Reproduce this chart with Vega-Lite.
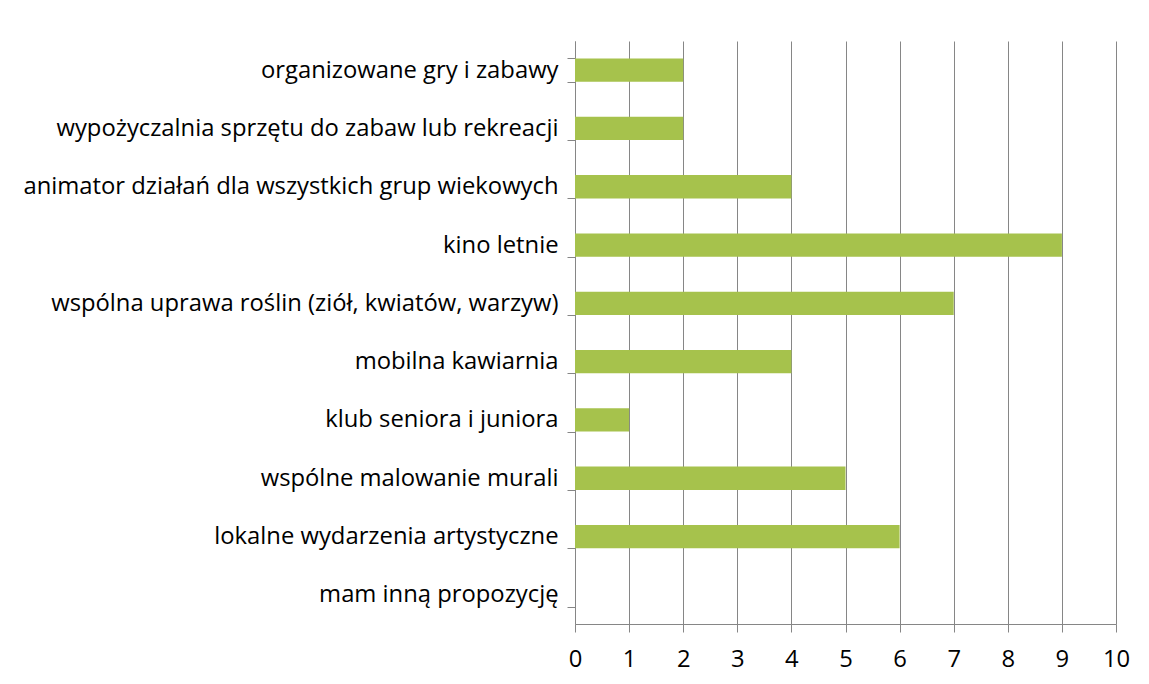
{
  "$schema": "https://vega.github.io/schema/vega-lite/v6.json",
  "autosize": {"type": "none"},
  "padding": {"left": 575, "top": 41, "right": 33, "bottom": 60},
  "width": 541,
  "height": 583,
  "background": "white",
  "data": {"values": [
    {"kategoria": "organizowane gry i zabawy", "liczba": 2},
    {"kategoria": "wypożyczalnia sprzętu do zabaw lub rekreacji", "liczba": 2},
    {"kategoria": "animator działań dla wszystkich grup wiekowych", "liczba": 4},
    {"kategoria": "kino letnie", "liczba": 9},
    {"kategoria": "wspólna uprawa roślin (ziół, kwiatów, warzyw)", "liczba": 7},
    {"kategoria": "mobilna kawiarnia", "liczba": 4},
    {"kategoria": "klub seniora i juniora", "liczba": 1},
    {"kategoria": "wspólne malowanie murali", "liczba": 5},
    {"kategoria": "lokalne wydarzenia artystyczne", "liczba": 6},
    {"kategoria": "mam inną propozycję", "liczba": 0}
  ]},
  "mark": {"type": "bar", "color": "#A6C24C"},
  "encoding": {
    "y": {
      "field": "kategoria", "type": "nominal", "sort": null,
      "scale": {"paddingInner": 0.6, "paddingOuter": 0.3},
      "axis": {
        "title": null, "tickBand": "extent", "grid": false,
        "domainColor": "#868686", "tickColor": "#868686", "tickSize": 8,
        "labelFont": "Open Sans", "labelFontSize": 23.8, "labelColor": "#000000",
        "labelPadding": 9, "labelLimit": 0
      }
    },
    "x": {
      "field": "liczba", "type": "quantitative",
      "scale": {"domain": [0, 10], "nice": false},
      "axis": {
        "title": null, "values": [0,1,2,3,4,5,6,7,8,9,10], "format": "d",
        "grid": true, "gridColor": "#868686", "gridOpacity": 1,
        "domainColor": "#868686", "tickColor": "#868686", "tickSize": 8,
        "labelFont": "Open Sans", "labelFontSize": 23.8, "labelColor": "#000000",
        "labelPadding": 15, "labelFlush": false, "labelOverlap": false
      }
    }
  },
  "config": {"view": {"stroke": null}}
}
